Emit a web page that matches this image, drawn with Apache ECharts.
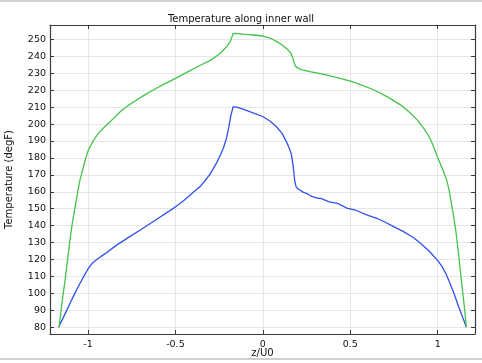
<!DOCTYPE html>
<html>
<head>
<meta charset="utf-8">
<script src="https://cdn.jsdelivr.net/npm/echarts@6/dist/echarts.min.js"></script>
<style>
html,body{margin:0;padding:0;background:#fff;}
#wrap{position:relative;width:482px;height:363px;}
#chart{position:absolute;left:0;top:0;width:482px;height:363px;}
.rule{position:absolute;left:0;width:482px;height:2px;background:#cfcfcf;pointer-events:none;}
</style>
</head>
<body>
<div id="wrap">
<div id="chart"></div>
<div class="rule" style="top:0"></div>
<div class="rule" style="top:358px"></div>
</div>
<script>
const titleText = 'Temperature along inner wall';
const xName = 'z/U0';
const yName = 'Temperature (degF)';
const xTicks = [-1, -0.5, 0, 0.5, 1];
const yTicks = [80, 90, 100, 110, 120, 130, 140, 150, 160, 170, 180, 190, 200, 210, 220, 230, 240, 250];

const greenZ = [-1.165, -1.15, -1.131, -1.115, -1.103, -1.09, -1.075, -1.06, -1.046, -1.03, -1.015, -0.998, -0.97, -0.941, -0.91, -0.874, -0.84, -0.807, -0.765, -0.722, -0.675, -0.627, -0.565, -0.499, -0.43, -0.36, -0.30, -0.246, -0.207, -0.185, -0.17, -0.155, -0.1, -0.05, 0, 0.04, 0.078, 0.11, 0.145, 0.16, 0.17, 0.178, 0.187, 0.2, 0.22, 0.269, 0.35, 0.42, 0.501, 0.57, 0.636, 0.71, 0.789, 0.84, 0.884, 0.92, 0.951, 0.975, 0.998, 1.025, 1.051, 1.065, 1.085, 1.103, 1.12, 1.135, 1.15, 1.164];
const greenT = [80, 93, 107.8, 121, 131.4, 141, 150, 159, 166.9, 173, 179, 184.6, 190, 194.5, 197.8, 201.3, 204.8, 208.2, 211.3, 214.2, 217.2, 220.1, 223.6, 227, 230.8, 234.6, 237.6, 241.5, 245.7, 249, 253.4, 253.5, 253, 252.6, 252, 250.8, 248.8, 246.7, 243.7, 241.8, 239.5, 236.5, 234.2, 233, 232.2, 230.9, 229.3, 227.6, 225.4, 222.9, 220.1, 216.2, 211.2, 206.8, 202.3, 197.5, 192.5, 187, 180.6, 174, 166.9, 161, 149, 137.3, 122.5, 107.8, 94, 80];

const blueZ = [-1.168, -1.135, -1.103, -1.075, -1.046, -1.02, -0.998, -0.975, -0.95, -0.9, -0.836, -0.77, -0.703, -0.6, -0.499, -0.455, -0.417, -0.38, -0.36, -0.331, -0.305, -0.284, -0.262, -0.246, -0.225, -0.207, -0.195, -0.183, -0.17, -0.155, -0.113, -0.06, 0.002, 0.04, 0.078, 0.11, 0.135, 0.152, 0.164, 0.172, 0.177, 0.182, 0.19, 0.2, 0.23, 0.255, 0.275, 0.316, 0.331, 0.38, 0.427, 0.484, 0.531, 0.598, 0.655, 0.7, 0.751, 0.807, 0.86, 0.903, 0.95, 0.998, 1.025, 1.046, 1.07, 1.093, 1.12, 1.164];
const blueT = [80, 87, 94, 100, 105.8, 110.8, 114.7, 117.8, 120, 123.6, 128.5, 132.9, 137.3, 144.2, 151.1, 154.5, 158, 161.3, 162.9, 166.5, 170, 173.5, 177.5, 181, 186, 192, 198, 205, 210.2, 210.2, 208.8, 206.8, 204.3, 201.8, 198.4, 194.5, 189.5, 185.5, 181.7, 176, 171.8, 166.5, 163, 161.8, 159.8, 158.8, 157.5, 156.1, 156.1, 154, 153.1, 150.2, 149.1, 146.2, 144.2, 142, 139.3, 136.3, 133, 129.5, 125, 119.6, 115.8, 111.7, 106, 99.9, 92, 80];

const FONT = 'DejaVu Sans';
const axisCol = '#3a3a3a';
const gridCol = '#e6e6e6';
const pairs = (xs, ys) => xs.map((x, i) => [x, ys[i]]);

const chart = echarts.init(document.getElementById('chart'), null, {renderer: 'canvas'});
const baseX = {
  type: 'value', min: -1.217, max: 1.213,
  axisLine: {show: true, onZero: false, lineStyle: {color: axisCol, width: 1.2}},
  axisTick: {show: true, inside: true, length: 4, customValues: xTicks, lineStyle: {color: axisCol}},
  splitLine: {show: false},
  axisLabel: {show: false}
};
const baseY = {
  type: 'value', min: 76, max: 258.5,
  axisLine: {show: true, onZero: false, lineStyle: {color: axisCol, width: 1.2}},
  axisTick: {show: true, inside: true, length: 4, customValues: yTicks, lineStyle: {color: axisCol}},
  splitLine: {show: false},
  axisLabel: {show: false}
};
chart.setOption({
  animation: false,
  backgroundColor: '#fff',
  title: {
    text: titleText, left: 'center', top: 9,
    textStyle: {fontFamily: FONT, fontSize: 10, fontWeight: 'normal', color: '#111'}
  },
  grid: {left: 50, right: 7, top: 25, bottom: 29, containLabel: false, outerBoundsMode: 'none'},
  xAxis: [
    Object.assign({}, baseX, {
      position: 'bottom',
      name: xName, nameLocation: 'middle', nameGap: 14, nameMoveOverlap: false,
      nameTextStyle: {fontFamily: FONT, fontSize: 10, color: '#111'},
      splitLine: {show: true, lineStyle: {color: gridCol, width: 1}},
      axisLabel: {show: true, customValues: xTicks, margin: 6, fontFamily: FONT, fontSize: 9.5, color: '#111'}
    }),
    Object.assign({}, baseX, {position: 'top'})
  ],
  yAxis: [
    Object.assign({}, baseY, {
      position: 'left',
      name: yName, nameLocation: 'middle', nameGap: 36, nameMoveOverlap: false,
      nameTextStyle: {fontFamily: FONT, fontSize: 10, color: '#111'},
      splitLine: {show: true, lineStyle: {color: gridCol, width: 1}},
      axisLabel: {show: true, customValues: yTicks, margin: 4, fontFamily: FONT, fontSize: 9.5, color: '#111'}
    }),
    Object.assign({}, baseY, {position: 'right'})
  ],
  series: [
    {
      type: 'line', xAxisIndex: 0, yAxisIndex: 0, data: pairs(blueZ, blueT),
      showSymbol: false, symbol: 'none', smooth: false,
      lineStyle: {color: '#3050f0', width: 1.3}
    },
    {
      type: 'line', xAxisIndex: 0, yAxisIndex: 0, data: pairs(greenZ, greenT),
      showSymbol: false, symbol: 'none', smooth: false,
      lineStyle: {color: '#44c24a', width: 1.3}
    }
  ]
});
</script>
</body>
</html>
